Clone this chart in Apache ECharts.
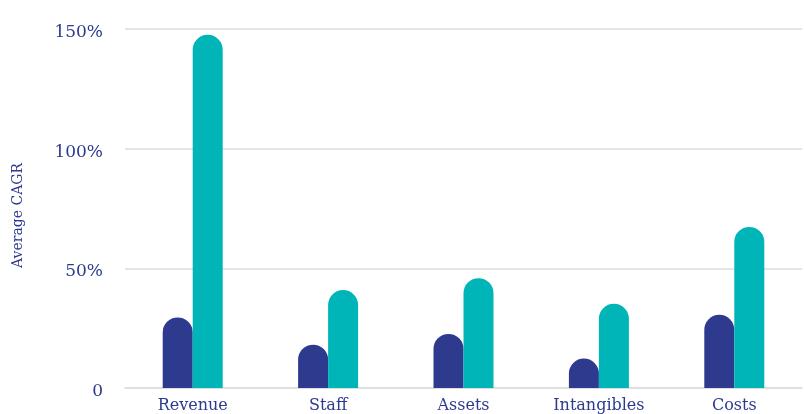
<!DOCTYPE html>
<html><head><meta charset="utf-8">
<script src="https://cdn.jsdelivr.net/npm/echarts@6/dist/echarts.min.js"></script>
<style>html,body{margin:0;padding:0;background:#fff}#c{width:804px;height:414px}</style>
</head><body><div id="c"></div>
<script>
const categories = ['Revenue', 'Staff', 'Assets', 'Intangibles', 'Costs'];
const seriesA = [29.5, 18.1, 22.6, 12.3, 30.6];
const seriesB = [147.6, 40.9, 45.9, 35.2, 67.3];
const yTicks = [0, 50, 100, 150];

const navy = '#2d3a8e';
const teal = '#00b5b8';
const font = '"DejaVu Serif", "Liberation Serif", serif';

const chart = echarts.init(document.getElementById('c'), null, {renderer: 'canvas'});
chart.setOption({
  animation: false,
  grid: {left: 125, right: 2, top: 29, bottom: 25, containLabel: false},
  xAxis: {
    type: 'category', data: categories,
    axisLine: {show: true, lineStyle: {color: '#dddddd', width: 1.5}},
    axisTick: {show: false},
    axisLabel: {color: navy, fontFamily: font, fontSize: 16, margin: 10}
  },
  yAxis: {
    type: 'value', min: yTicks[0], max: yTicks[yTicks.length - 1], interval: 50,
    name: 'Average CAGR', nameLocation: 'middle', nameGap: 100,
    nameTextStyle: {color: navy, fontFamily: font, fontSize: 14, padding: [0, 0, 0, -14]},
    axisLine: {show: false}, axisTick: {show: false},
    splitLine: {lineStyle: {color: '#dddddd', width: 1.5}},
    axisLabel: {color: navy, fontFamily: font, fontSize: 17, margin: 22,
      formatter: v => '{a|' + (v === 0 ? '0' : v + '%') + '}',
      rich: {a: {color: navy, fontFamily: font, fontSize: 17, padding: [7, 0, 0, 0]}}}
  },
  series: [
    {type: 'bar', data: seriesA, barWidth: 30, barGap: '0%',
     itemStyle: {color: navy, borderRadius: [15, 15, 0, 0]}},
    {type: 'bar', data: seriesB, barWidth: 30, barGap: '0%',
     itemStyle: {color: teal, borderRadius: [15, 15, 0, 0]}}
  ]
});
</script></body></html>
